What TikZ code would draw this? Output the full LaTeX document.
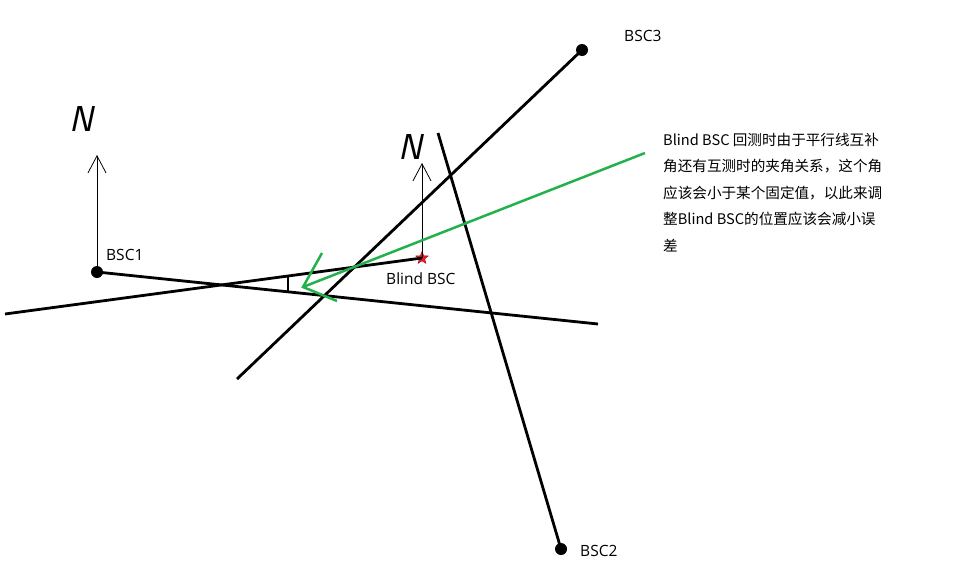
\documentclass[tikz,border=0pt]{standalone}
\usepackage{fontspec}
\setmainfont{Open Sans}
\newfontfamily\cjk{Noto Sans CJK SC}
\usepackage{tikz}
\usetikzlibrary{arrows.meta,positioning,shapes.geometric}

\definecolor{paintgreen}{RGB}{34,177,76}
\definecolor{paintred}{RGB}{237,28,36}

\begin{document}
\begin{tikzpicture}[x=1pt,y=-1pt,
      baseline/.style={line width=2.8pt, black},
      station/.style={circle, fill=black, inner sep=0pt, minimum size=12pt},
      northline/.style={line width=0.8pt, -{Straight Barb[length=17pt,width=18pt,line width=0.8pt]}},
      northmark/.style={font={\fontsize{36}{36}\selectfont\sffamily\slshape}, inner sep=0pt},
      label/.style={font={\fontsize{15.5}{17}\selectfont}, anchor=west, inner sep=0pt},
      hint/.style={line width=2.5pt, paintgreen}]

    \useasboundingbox (0,0) rectangle (965,584);

    %draw stations
    \node[station] (bsc1) at (97,272) {};
    \node[station] (bsc2) at (561,549) {};
    \node[station] (bsc3) at (582,50) {};
    \node[star, star points=5, star point ratio=2.3, fill=paintred, draw=paintred!70!black,
          line width=0.5pt, inner sep=0pt, minimum size=13pt] (blind) at (422,258) {};

    \node[label] (bsc1label) at (106,255) {BSC1};
    \node[label] (bsc2label) at (580,551) {BSC2};
    \node[label] (bsc3label) at (624,36) {BSC3};
    \node[label] (blindlabel) at (386,279) {Blind BSC};

    %draw lines of sight
    \coordinate (end1) at (598,324);
    \coordinate (end2) at (438,133);
    \coordinate (end3) at (237,379);
    \coordinate (endb) at (5,314);
    \draw[baseline] (bsc1.center) -- (end1);
    \draw[baseline] (bsc2.center) -- (end2);
    \draw[baseline] (bsc3.center) -- (end3);
    \draw[baseline] (blind.center) -- (endb);
    \draw[line width=2pt] (288,276) -- (288,292);

    %draw north arrows
    \coordinate (north1) at (97,155);
    \coordinate (northb) at (422,163);
    \draw[northline] (bsc1.center) -- (north1);
    \draw[northline] (blind.center) -- (northb);
    \node[northmark] (n1) at (81,119) {N};
    \node[northmark] (nb) at (410,147) {N};

    %draw note and green arrow
    \node[anchor=north west, inner sep=0pt, align=left,
          font={\cjk\fontsize{14.6}{26.5}\selectfont}] (note) at (663,133)
      {Blind BSC 回测时由于平行线互补\\角还有互测时的夹角关系，这个角\\应该会小于某个固定值，以此来调\\整Blind BSC的位置应该会减小误\\差};
    \coordinate (tip) at (303,287);
    \coordinate (tail) at (645,153);
    \draw[hint] (tail) -- (tip);
    \draw[hint] (322,253) -- (tip) -- (337,301);

  \end{tikzpicture}
\end{document}
